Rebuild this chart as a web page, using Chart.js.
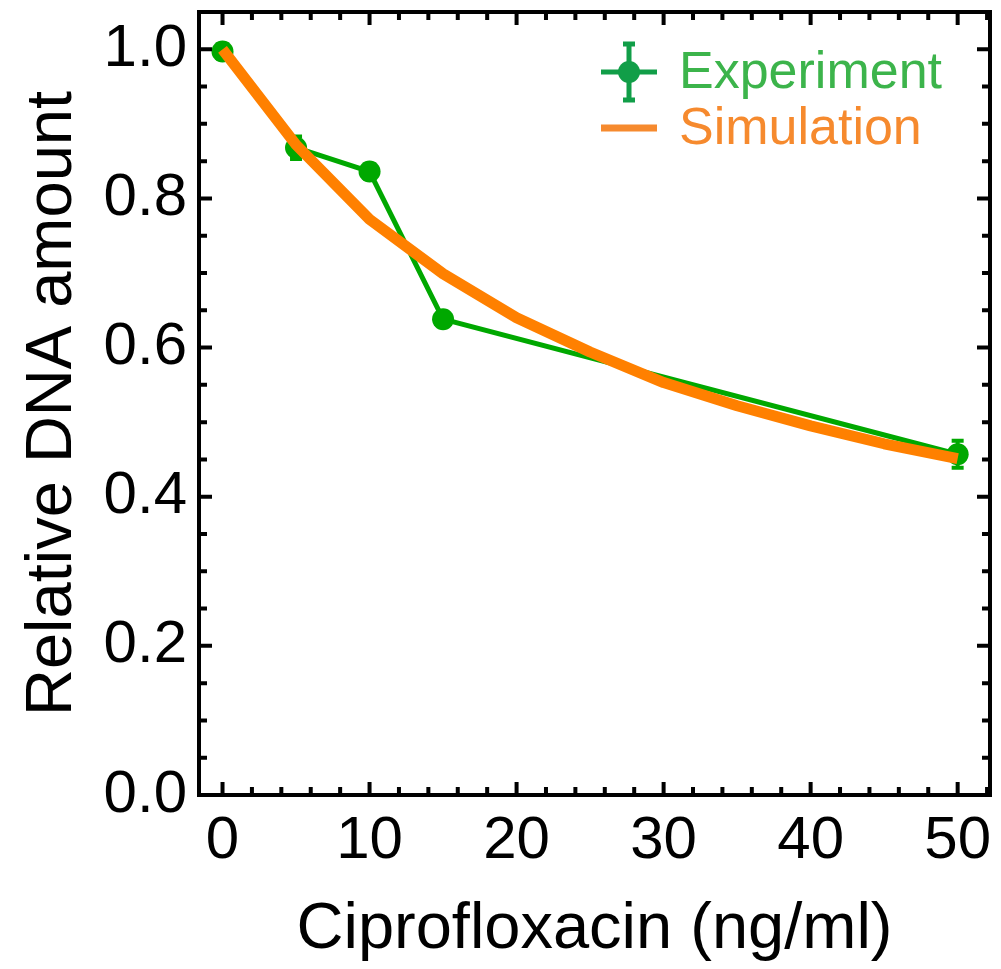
<!DOCTYPE html>
<html>
<head>
<meta charset="utf-8">
<script src="https://cdn.jsdelivr.net/npm/chart.js@4/dist/chart.umd.min.js"></script>
<style>
  html, body { margin: 0; padding: 0; background: #fff; }
  #wrap { width: 1001px; height: 969px; }
</style>
</head>
<body>
<div id="wrap"><canvas id="c" width="1001" height="969"></canvas></div>
<script>
// ---- data ----
const expX = [0, 5, 10, 15, 50];
const expY = [0.997, 0.868, 0.836, 0.638, 0.457];
const expErr = [0.010, 0.015, 0.010, 0.006, 0.018];
const simX = [0, 5, 10, 15, 20, 25, 30, 35, 40, 45, 50];
const simY = [1.0, 0.872, 0.772, 0.699, 0.640, 0.594, 0.553, 0.522, 0.495, 0.471, 0.451];
const xTickValues = [0, 10, 20, 30, 40, 50];
const yTickValues = [0.0, 0.2, 0.4, 0.6, 0.8, 1.0];
const seriesNames = ['Experiment', 'Simulation'];
const xTitle = 'Ciprofloxacin (ng/ml)';
const yTitle = 'Relative DNA amount';

const FONT = "'Liberation Sans', Arial, sans-serif";
const GREEN = '#00a800';
const GREEN_LEG = '#119e48';
const GREEN_TXT = '#3cb44b';
const ORANGE = '#ff8000';
const ORANGE_TXT = '#f68a2e';

const framePlugin = {
  id: 'frame',
  afterDatasetsDraw(chart) {
    const ctx = chart.ctx;
    const a = chart.chartArea;
    const xs = chart.scales.x, ys = chart.scales.y;
    ctx.save();
    ctx.strokeStyle = '#000';
    ctx.lineCap = 'butt';
    ctx.lineWidth = 4;
    for (let v = 0; v <= 52; v += 2) {
      const px = xs.getPixelForValue(v);
      const major = v % 10 === 0;
      const len = major ? 13 : 8;
      ctx.beginPath();
      ctx.moveTo(px, a.bottom); ctx.lineTo(px, a.bottom - len);
      ctx.moveTo(px, a.top); ctx.lineTo(px, a.top + len);
      ctx.stroke();
    }
    for (let i = 0; i <= 21; i++) {
      const v = i * 0.05;
      const py = ys.getPixelForValue(v);
      const major = i % 4 === 0;
      const len = major ? 13 : 8;
      ctx.beginPath();
      ctx.moveTo(a.left, py); ctx.lineTo(a.left + len, py);
      ctx.moveTo(a.right, py); ctx.lineTo(a.right - len, py);
      ctx.stroke();
    }
    ctx.lineWidth = 4;
    ctx.strokeRect(a.left, a.top, a.right - a.left, a.bottom - a.top);
    ctx.restore();
  }
};

const errorPlugin = {
  id: 'errbars',
  beforeDatasetsDraw(chart) {
    const ctx = chart.ctx;
    const xs = chart.scales.x, ys = chart.scales.y;
    ctx.save();
    ctx.strokeStyle = GREEN;
    ctx.lineWidth = 4;
    expX.forEach((x, i) => {
      const px = xs.getPixelForValue(x);
      const y1 = ys.getPixelForValue(expY[i] + expErr[i]);
      const y0 = ys.getPixelForValue(expY[i] - expErr[i]);
      ctx.beginPath();
      ctx.moveTo(px, y0); ctx.lineTo(px, y1);
      ctx.moveTo(px - 6, y1); ctx.lineTo(px + 6, y1);
      ctx.moveTo(px - 6, y0); ctx.lineTo(px + 6, y0);
      ctx.stroke();
    });
    ctx.restore();
  }
};

const legendPlugin = {
  id: 'customLegend',
  afterDraw(chart) {
    const ctx = chart.ctx;
    ctx.save();
    const mx = 629, my = 72;
    ctx.strokeStyle = GREEN_LEG;
    ctx.fillStyle = GREEN_LEG;
    ctx.lineWidth = 5;
    ctx.beginPath();
    ctx.moveTo(601, my); ctx.lineTo(657, my);
    ctx.moveTo(mx, my - 28); ctx.lineTo(mx, my + 28);
    ctx.moveTo(mx - 6, my - 28); ctx.lineTo(mx + 6, my - 28);
    ctx.moveTo(mx - 6, my + 28); ctx.lineTo(mx + 6, my + 28);
    ctx.stroke();
    ctx.beginPath(); ctx.arc(mx, my, 11, 0, Math.PI * 2); ctx.fill();
    ctx.strokeStyle = ORANGE_TXT;
    ctx.lineWidth = 7;
    ctx.beginPath(); ctx.moveTo(601, 128); ctx.lineTo(657, 128); ctx.stroke();
    ctx.font = '52px ' + FONT;
    ctx.textBaseline = 'middle';
    ctx.textAlign = 'left';
    ctx.fillStyle = GREEN_TXT;
    ctx.fillText(chart.data.datasets[0].label, 679, my + 2);
    ctx.fillStyle = ORANGE_TXT;
    ctx.fillText(chart.data.datasets[1].label, 679, 130);
    ctx.restore();
  }
};

new Chart(document.getElementById('c'), {
  type: 'line',
  data: {
    datasets: [
      {
        label: seriesNames[0],
        data: expX.map((x, i) => ({ x, y: expY[i] })),
        borderColor: GREEN,
        backgroundColor: GREEN,
        borderWidth: 5,
        pointRadius: 11,
        pointHoverRadius: 11,
        pointBorderWidth: 0,
        tension: 0,
        order: 2
      },
      {
        label: seriesNames[1],
        data: simX.map((x, i) => ({ x, y: simY[i] })),
        borderColor: ORANGE,
        backgroundColor: ORANGE,
        borderWidth: 11,
        pointRadius: 0,
        tension: 0,
        borderJoinStyle: 'round',
        order: 1
      }
    ]
  },
  options: {
    responsive: false,
    animation: false,
    devicePixelRatio: 1,
    layout: { padding: { top: 12, right: 9, left: 0, bottom: 0 } },
    plugins: { legend: { display: false }, tooltip: { enabled: false } },
    scales: {
      x: {
        type: 'linear',
        min: -1.6,
        max: 52.2,
        afterBuildTicks: s => { s.ticks = xTickValues.map(v => ({ value: v })); },
        afterFit: s => { s.height = 969 - 795; s.paddingLeft = 0; s.paddingRight = 0; },
        grid: { display: false, drawTicks: false },
        border: { display: false },
        ticks: {
          color: '#000',
          font: { family: FONT, size: 60 },
          padding: 10,
          maxRotation: 0,
          autoSkip: false,
          callback: v => String(v)
        },
        title: {
          display: true,
          text: xTitle,
          color: '#000',
          font: { family: FONT, size: 65 },
          padding: { top: 4, bottom: 0 }
        }
      },
      y: {
        type: 'linear',
        min: 0,
        max: 1.05,
        afterBuildTicks: s => { s.ticks = yTickValues.map(v => ({ value: v })); },
        afterFit: s => { s.width = 199; s.paddingTop = 0; s.paddingBottom = 0; },
        grid: { display: false, drawTicks: false },
        border: { display: false },
        ticks: {
          color: '#000',
          font: { family: FONT, size: 60 },
          padding: 12,
          autoSkip: false,
          callback: v => Number(v).toFixed(1)
        },
        title: {
          display: true,
          text: yTitle,
          color: '#000',
          font: { family: FONT, size: 65 },
          padding: { top: 14, bottom: 8 }
        }
      }
    }
  },
  plugins: [errorPlugin, framePlugin, legendPlugin]
});
</script>
</body>
</html>
